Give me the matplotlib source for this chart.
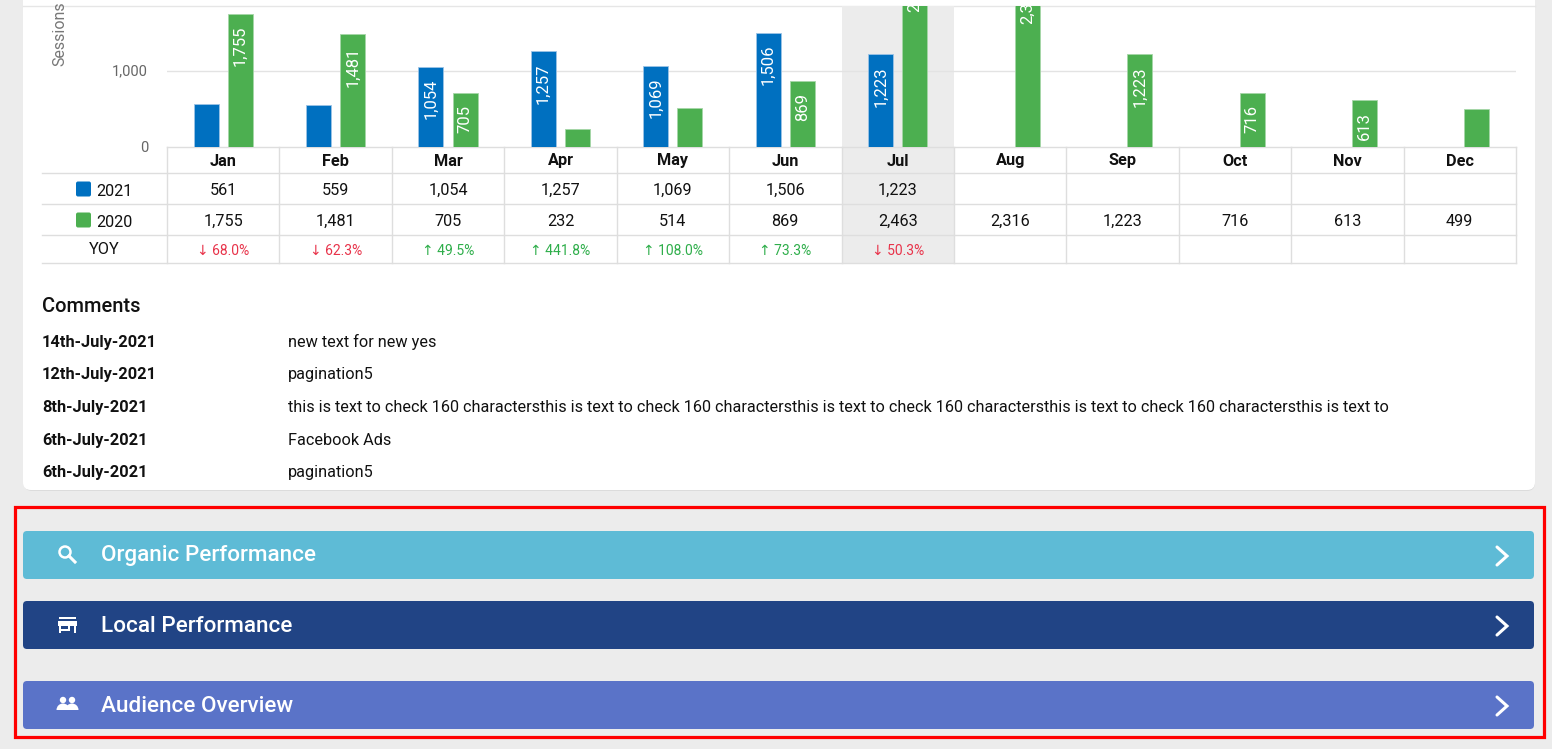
import numpy as np
import matplotlib
matplotlib.use("Agg")
import matplotlib.pyplot as plt
from matplotlib.patches import Rectangle, FancyBboxPatch, Circle, Wedge
from matplotlib.transforms import ScaledTranslation

plt.rcParams['font.family'] = ['Roboto', 'DejaVu Sans']

# ---- data ----
months = ['Jan', 'Feb', 'Mar', 'Apr', 'May', 'Jun', 'Jul', 'Aug', 'Sep', 'Oct', 'Nov', 'Dec']
sessions_2021 = [561, 559, 1054, 1257, 1069, 1506, 1223, None, None, None, None, None]
sessions_2020 = [1755, 1481, 705, 232, 514, 869, 2463, 2316, 1223, 716, 613, 499]
yoy = ['↓ 68.0%', '↓ 62.3%', '↑ 49.5%', '↑ 441.8%', '↑ 108.0%', '↑ 73.3%', '↓ 50.3%',
       '', '', '', '', '']
current_month = 'Jul'

comment_dates = ['14th-July-2021', '12th-July-2021', '8th-July-2021', '6th-July-2021', '6th-July-2021']
comment_texts = ['new text for new yes', 'pagination5',
                 'this is text to check 160 charactersthis is text to check 160 charactersthis is text '
                 'to check 160 charactersthis is text to check 160 charactersthis is text to',
                 'Facebook Ads', 'pagination5']

sections = ['Organic Performance', 'Local Performance', 'Audience Overview']
section_colors = ['#5ebbd6', '#214485', '#5a73c8']

BLUE = '#0070c0'
GREEN = '#4caf50'
RED_TXT = '#e8334a'
GREEN_TXT = '#2eae4a'
LINE = '#dedede'
BG = '#ececec'

W, H = 1552, 749
fig = plt.figure(figsize=(W / 100, H / 100), dpi=100)
fig.patch.set_facecolor(BG)

# page axes in pixel coordinates
pg = fig.add_axes([0, 0, 1, 1])
pg.set_xlim(0, W)
pg.set_ylim(H, 0)
pg.axis('off')
pg.set_zorder(0)

# white card with soft shadow
pg.add_patch(FancyBboxPatch((24, -20), 1511, 511, boxstyle='round,pad=0,rounding_size=8',
                            fc='#dcdcdc', ec='none', zorder=1))
pg.add_patch(FancyBboxPatch((23, -20), 1512, 510, boxstyle='round,pad=0,rounding_size=8',
                            fc='white', ec='none', zorder=2))
pg.plot([23, 1535], [6, 6], color='#e6e6e6', lw=1, zorder=3)

# table geometry
x0, x1 = 167, 1516
col_w = (x1 - x0) / 12
row_y = [147, 173, 204, 235, 263]
jul = months.index(current_month)
pg.add_patch(Rectangle((x0 + jul * col_w, 6), col_w, row_y[-1] - 6, fc=BG, ec='none', zorder=3))

for y in row_y[1:]:
    pg.plot([42, x1], [y, y], color=LINE, lw=1, zorder=4)
pg.plot([x0, x1], [row_y[0], row_y[0]], color=LINE, lw=1, zorder=4)
for i in range(13):
    xv = x0 + i * col_w
    pg.plot([xv, xv], [row_y[0], row_y[-1]], color=LINE, lw=1, zorder=4)

row_c = [(row_y[k] + row_y[k + 1]) / 2 for k in range(4)]
for i, m in enumerate(months):
    cx = x0 + (i + 0.5) * col_w
    pg.text(cx, row_c[0] + 1, m, ha='center', va='center', fontsize=11.7, fontweight='bold',
            color='#111111', zorder=5)
    if sessions_2021[i] is not None:
        pg.text(cx, row_c[1] + 2, f'{sessions_2021[i]:,}', ha='center', va='center',
                fontsize=11.7, color='#111111', zorder=5)
    if sessions_2020[i] is not None:
        pg.text(cx, row_c[2] + 2, f'{sessions_2020[i]:,}', ha='center', va='center',
                fontsize=11.7, color='#111111', zorder=5)
    if yoy[i]:
        c = RED_TXT if yoy[i].startswith('↓') else GREEN_TXT
        pg.text(cx, row_c[3] + 2, yoy[i], ha='center', va='center', fontsize=10, color=c, zorder=5)

# legend cells
for k, (lab, c) in enumerate([('2021', BLUE), ('2020', GREEN)]):
    yc = row_c[k + 1] + 1
    pg.add_patch(FancyBboxPatch((76, yc - 8), 15, 15, boxstyle='round,pad=0,rounding_size=2',
                                fc=c, ec='none', zorder=5))
    pg.text(96, yc + 2, lab, ha='left', va='center', fontsize=11.7, color='#111111', zorder=5)
pg.text(104, row_c[3] + 1, 'YOY', ha='center', va='center', fontsize=11.7, color='#111111', zorder=5)

# y axis labels
pg.text(148, 71, '1,000', ha='right', va='center', fontsize=10.5, color='#666666', zorder=5)
pg.text(148, 148, '0', ha='right', va='center', fontsize=10.5, color='#666666', zorder=5)
sl = pg.text(60, 66, 'Sessions', ha='center', va='bottom', rotation=90, fontsize=11.5,
             color='#777777', zorder=5)
sl.set_clip_path(Rectangle((0, 6), W, H, transform=pg.transData))

# ---- bar chart ----
px_per_1000 = 76
ax = fig.add_axes([x0 / W, 1 - 147 / H, (x1 - x0) / W, (147 - 6) / H])
ax.set_zorder(2)
ax.patch.set_alpha(0)
ax.set_xlim(-0.5, 11.5)
ax.set_ylim(0, (147 - 6) / px_per_1000 * 1000)
ax.set_yticks([1000])
ax.set_xticks([])
ax.set_yticklabels([])
ax.tick_params(length=0)
ax.grid(axis='y', color='#e3e3e3', lw=1)
ax.set_axisbelow(True)
for s in ax.spines.values():
    s.set_visible(False)

x = np.arange(12)
v21 = np.array([np.nan if v is None else v for v in sessions_2021], dtype=float)
v20 = np.array(sessions_2020, dtype=float)
off, bw = 0.152, 0.222
ax.bar(x - off, v21, width=bw, color=BLUE, edgecolor='#9cc3e6', linewidth=0.6)
ax.bar(x + off, v20, width=bw, color=GREEN, edgecolor='#a5d6a7', linewidth=0.6)

shift = ScaledTranslation(0, -12 / 100, fig.dpi_scale_trans)
for xs, vals in [(x - off, v21), (x + off, v20)]:
    for xi, v in zip(xs, vals):
        if np.isnan(v) or v < 600:
            continue
        t = ax.text(xi, v, f'{int(v):,}', rotation=90, ha='center', va='top', color='white',
                    fontsize=12, transform=ax.transData + shift)
        t.set_clip_path(ax.patch)

# ---- comments ----
pg.text(42, 306, 'Comments', ha='left', va='center', fontsize=14.4, fontweight='medium',
        color='#111111', zorder=5)
for k, (d, c) in enumerate(zip(comment_dates, comment_texts)):
    yy = 342 + k * 32.7
    pg.text(42, yy, d, ha='left', va='center', fontsize=11.8, fontweight='bold', color='#111111', zorder=5)
    pg.text(288, yy, c, ha='left', va='center', fontsize=11.7, color='#111111', zorder=5)

# ---- section buttons ----
pg.add_patch(Rectangle((15, 507), 1529, 230, fc='none', ec='#ff0000', lw=2.3, zorder=6))
btn_top = [531, 601, 681]
for k, (name, c) in enumerate(zip(sections, section_colors)):
    yt = btn_top[k]
    pg.add_patch(FancyBboxPatch((23, yt), 1511, 48, boxstyle='round,pad=0,rounding_size=4',
                                fc=c, ec='none', zorder=5))
    yc = yt + 25
    pg.text(101, yc, name, ha='left', va='center', fontsize=16.2, fontweight='medium',
            color='white', zorder=7)
    # chevron
    pg.plot([1497, 1507, 1497], [yc - 9, yc, yc + 9], color='white', lw=2.2,
            solid_capstyle='round', solid_joinstyle='miter', zorder=7)

# icons
yc = 531 + 24
pg.add_patch(Circle((65, yc - 3), 5.5, fc='none', ec='white', lw=1.8, zorder=7))
pg.plot([69, 75], [yc + 1, yc + 7], color='white', lw=2.2, zorder=7)

yc = 601 + 24
pg.add_patch(Rectangle((59, yc - 8), 17, 2, fc='white', ec='none', zorder=7))
pg.add_patch(Rectangle((58, yc - 4), 19, 5, fc='white', ec='none', zorder=7))
pg.add_patch(Rectangle((59, yc + 1), 2, 7, fc='white', ec='none', zorder=7))
pg.add_patch(Rectangle((59, yc + 1), 11, 5, fc='white', ec='none', zorder=7))
pg.add_patch(Rectangle((61, yc + 1), 7, 3, fc=section_colors[1], ec='none', zorder=8))
pg.add_patch(Rectangle((74, yc + 1), 2, 7, fc='white', ec='none', zorder=7))

yc = 681 + 24
pg.add_patch(Circle((63, yc - 5), 3.2, fc='white', ec='none', zorder=7))
pg.add_patch(Circle((72, yc - 5), 3.2, fc='white', ec='none', zorder=7))
pg.add_patch(Wedge((63, yc + 5), 6.5, 180, 360, fc='white', ec='none', zorder=7))
pg.add_patch(Wedge((72, yc + 5), 6.5, 180, 360, fc='white', ec='none', zorder=7))

fig.savefig('out.png', dpi=100, facecolor=BG)
